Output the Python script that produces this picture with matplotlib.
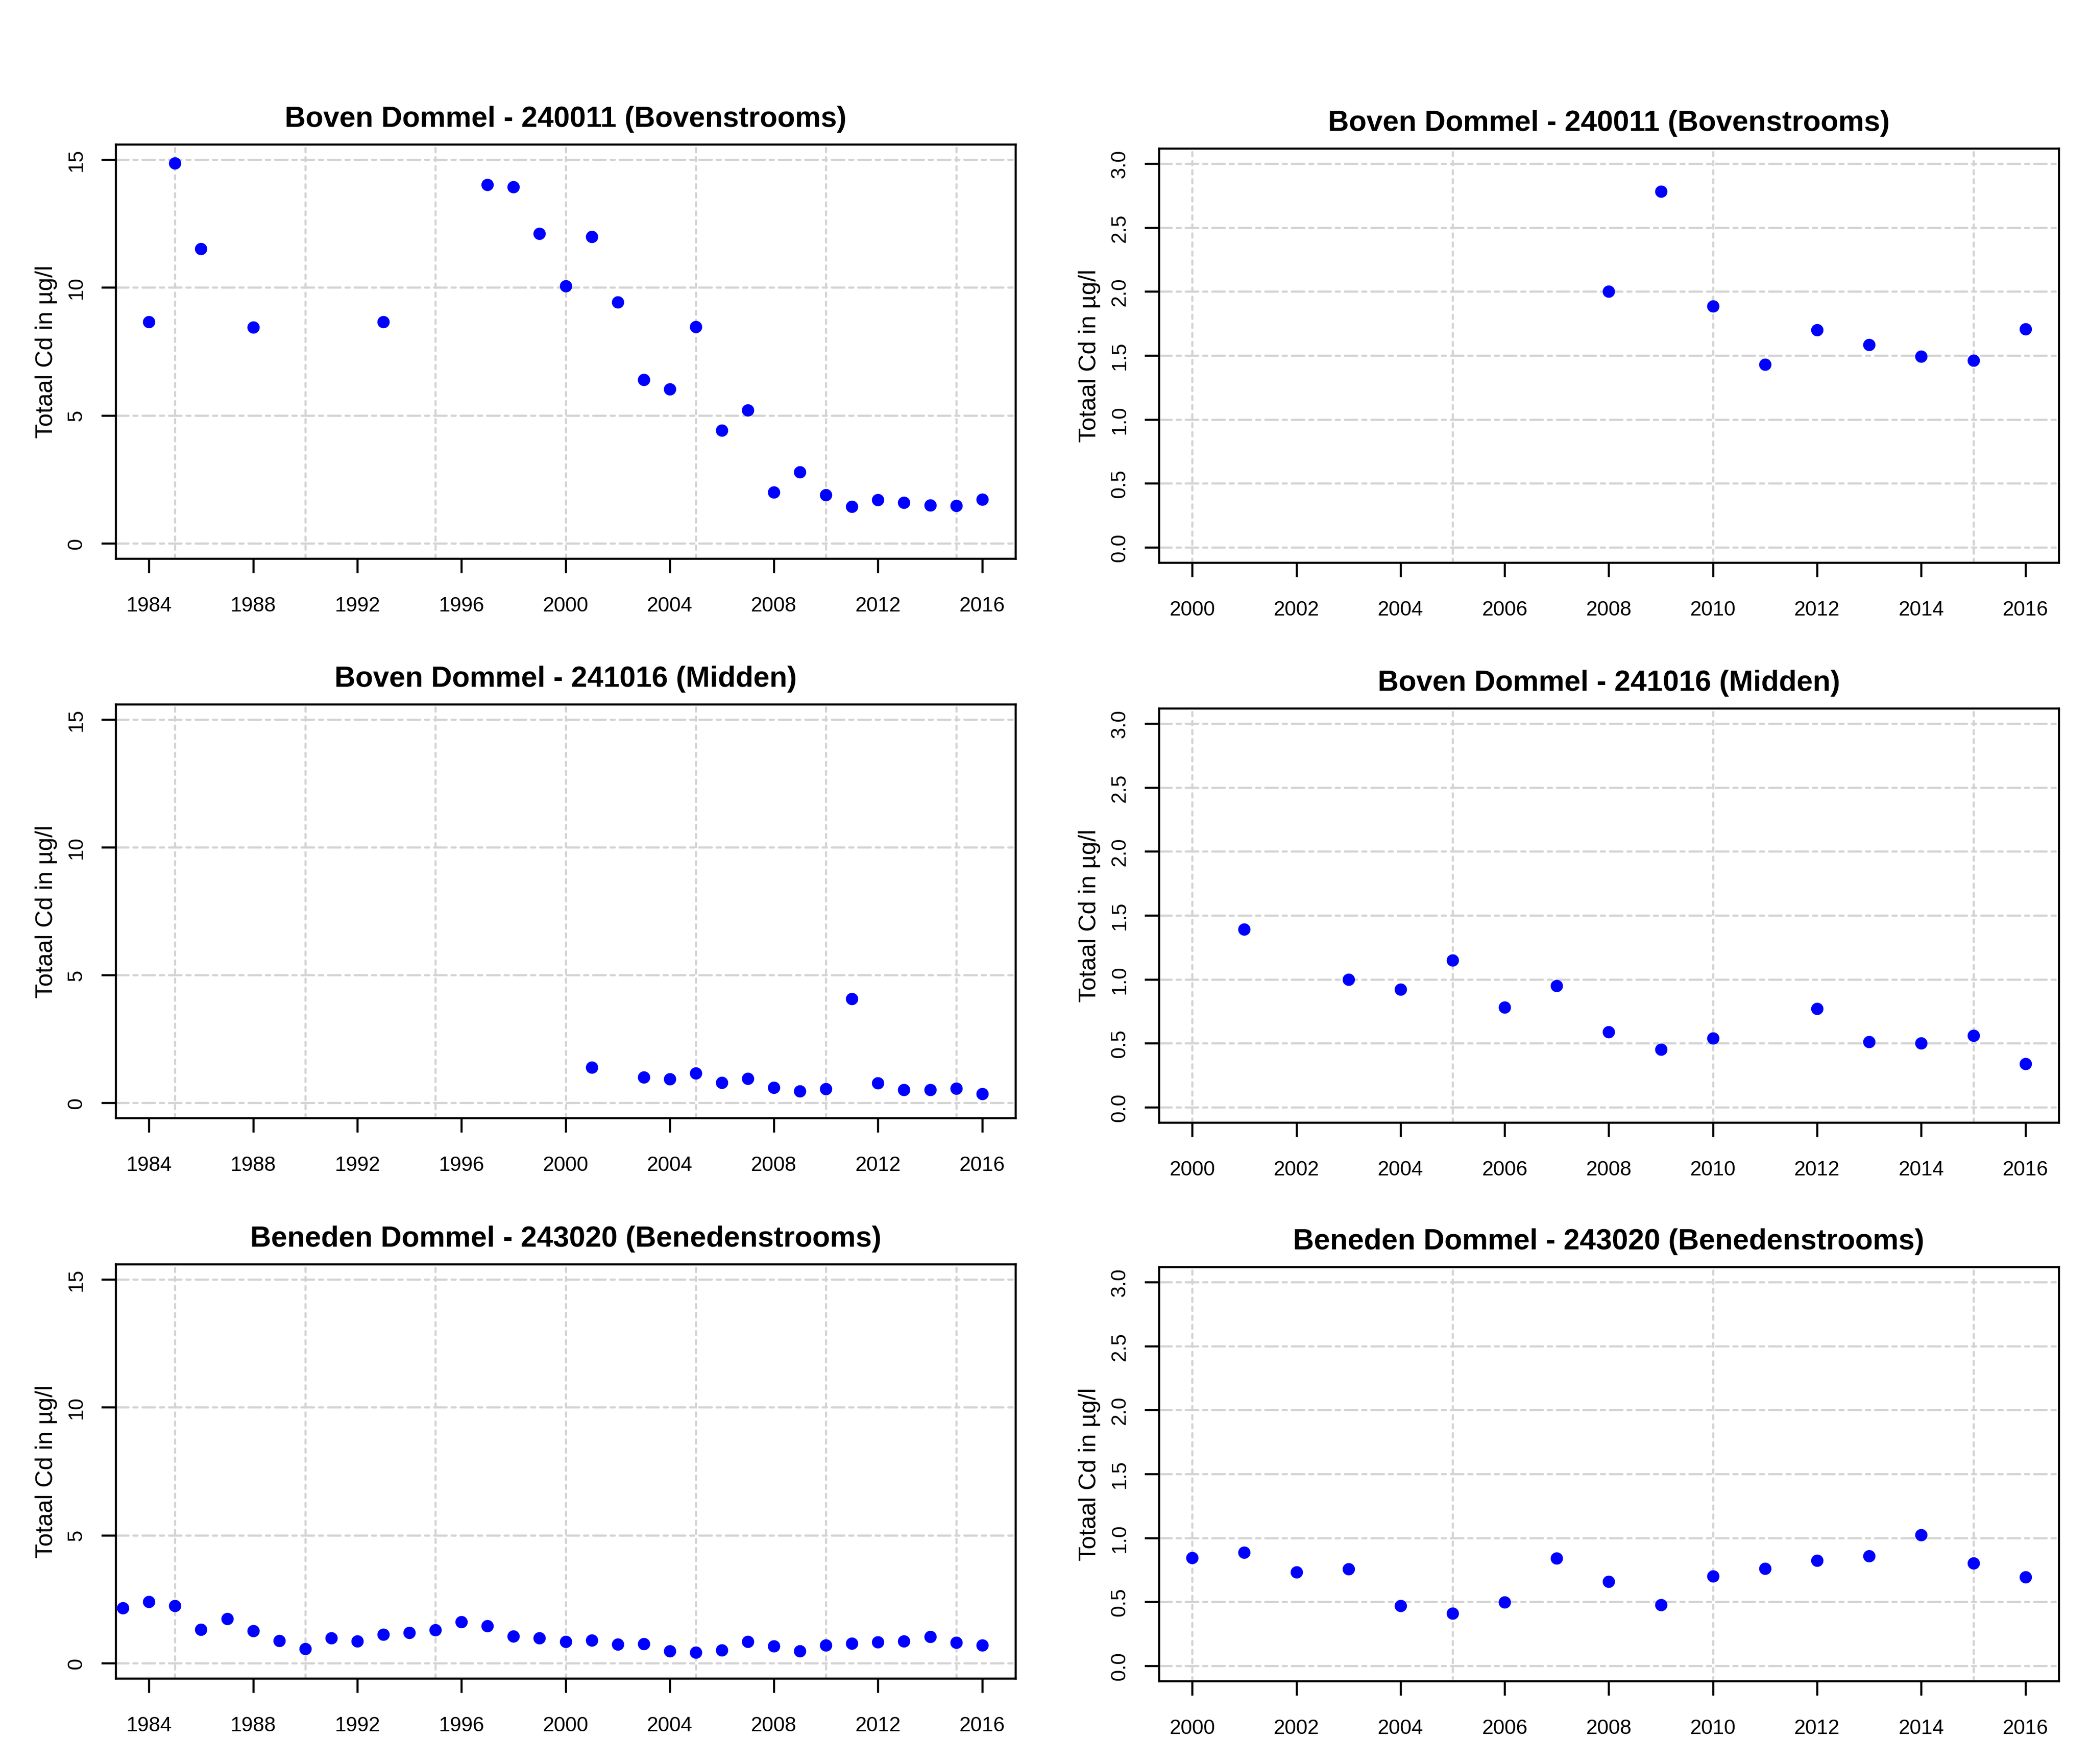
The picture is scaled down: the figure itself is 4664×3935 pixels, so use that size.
import matplotlib
matplotlib.use("Agg")
import matplotlib.pyplot as plt

plt.rcParams['font.family'] = ['Liberation Sans', 'DejaVu Sans']

W, H = 4664, 3936
DPI = 300

# ---------------- data ----------------
years_240011 = [1984, 1985, 1986, 1988, 1993, 1997, 1998, 1999, 2000, 2001, 2002,
                2003, 2004, 2005, 2006, 2007, 2008, 2009, 2010, 2011, 2012, 2013,
                2014, 2015, 2016]
cd_240011 = [8.66, 14.87, 11.51, 8.45, 8.65, 14.03, 13.94, 12.11, 10.06, 11.99, 9.43,
             6.39, 6.03, 8.47, 4.42, 5.21, 2.00, 2.785, 1.884, 1.43, 1.70, 1.583,
             1.494, 1.462, 1.706]

years_241016 = [2001, 2003, 2004, 2005, 2006, 2007, 2008, 2009, 2010, 2011, 2012,
                2013, 2014, 2015, 2016]
cd_241016 = [1.39, 1.00, 0.92, 1.15, 0.78, 0.95, 0.59, 0.45, 0.54, 4.07, 0.77,
             0.51, 0.50, 0.56, 0.34]

years_243020 = list(range(1983, 2017))
cd_243020 = [2.16, 2.39, 2.24, 1.31, 1.73, 1.26, 0.87, 0.55, 0.97, 0.86, 1.12,
             1.18, 1.29, 1.61, 1.45, 1.04, 0.97,
             0.844, 0.888, 0.731, 0.758, 0.468, 0.410, 0.498, 0.841, 0.659,
             0.476, 0.700, 0.761, 0.825, 0.858, 1.024, 0.803, 0.695]

titles = ["Boven Dommel - 240011 (Bovenstrooms)",
          "Boven Dommel - 241016 (Midden)",
          "Beneden Dommel - 243020 (Benedenstrooms)"]
ylabel_text = "Totaal Cd in µg/l"

long_xticks = list(range(1984, 2017, 4))
long_xgrid = list(range(1985, 2016, 5))
long_yticks = [0, 5, 10, 15]
long_ylabels = ["0", "5", "10", "15"]

short_xticks = list(range(2000, 2017, 2))
short_xgrid = [2000, 2005, 2010, 2015]
short_yticks = [0.0, 0.5, 1.0, 1.5, 2.0, 2.5, 3.0]
short_ylabels = ["0.0", "0.5", "1.0", "1.5", "2.0", "2.5", "3.0"]

series = [(years_240011, cd_240011), (years_241016, cd_241016), (years_243020, cd_243020)]

# axes rectangles in pixels: (left, top, right, bottom)
rects_left = [(258, 323, 2265, 1247), (258, 1572, 2265, 2495), (258, 2821, 2265, 3745)]
rects_right = [(2585, 332, 4592, 1256), (2585, 1581, 4592, 2505), (2585, 2827, 4592, 3751)]

fig = plt.figure(figsize=(W / DPI, H / DPI), dpi=DPI)
fig.patch.set_facecolor("white")

grid_color = "#D3D3D3"
grid_lw = 1.13
spine_lw = 1.1


def make_axes(rect):
    l, t, r, b = rect
    return fig.add_axes([l / W, 1 - b / H, (r - l) / W, (b - t) / H])


def style(ax, xticks, xgrid, yticks, ylabels, xlim, ylim, title):
    ax.set_xlim(*xlim)
    ax.set_ylim(*ylim)
    for gy in yticks:
        ax.axhline(gy, color=grid_color, lw=grid_lw, ls=(0, (6.0, 2.28, 2.0, 2.28)),
                   dash_capstyle="round", zorder=1)
    for gx in xgrid:
        ax.axvline(gx, color=grid_color, lw=grid_lw, ls=(0, (2.0, 2.28)),
                   dash_capstyle="round", zorder=1)
    ax.set_xticks(xticks)
    ax.set_xticklabels([str(v) for v in xticks])
    ax.set_yticks(yticks)
    ax.set_yticklabels(ylabels, rotation=90, va="center")
    ax.tick_params(axis="x", direction="out", length=7.7, width=spine_lw,
                   pad=12.3, labelsize=11, top=False)
    ax.tick_params(axis="y", direction="out", length=7.7, width=spine_lw,
                   pad=8.0, labelsize=11, right=False)
    for lbl in ax.get_yticklabels():
        lbl.set_va("center")
    for s in ax.spines.values():
        s.set_linewidth(spine_lw)
        s.set_color("black")
    ax.set_ylabel(ylabel_text, fontsize=12.9, labelpad=5.0)
    ax.set_title(title, fontsize=15.5, fontweight="bold", pad=9.6)


for i, (yrs, vals) in enumerate(series):
    axl = make_axes(rects_left[i])
    axl.plot(yrs, vals, "o", color="#0000FF", ms=6.6, mew=0, zorder=3)
    style(axl, long_xticks, long_xgrid, long_yticks, long_ylabels,
          (1982.72, 2017.28), (-0.6, 15.6), titles[i])

    axr = make_axes(rects_right[i])
    axr.plot(yrs, vals, "o", color="#0000FF", ms=6.6, mew=0, zorder=3)
    style(axr, short_xticks, short_xgrid, short_yticks, short_ylabels,
          (1999.36, 2016.64), (-0.12, 3.12), titles[i])

fig.savefig("out.png", dpi=DPI, facecolor="white")
